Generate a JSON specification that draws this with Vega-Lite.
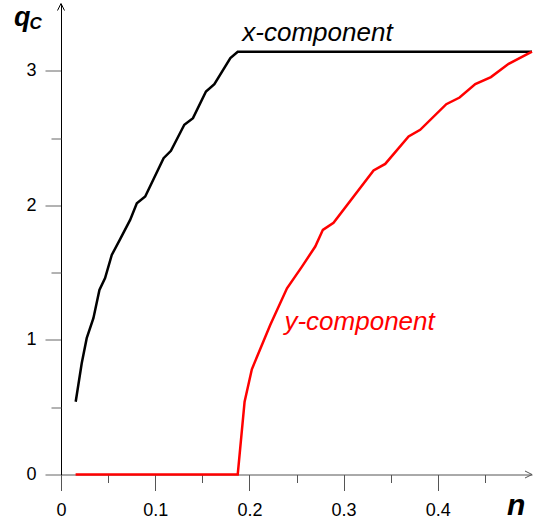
{
  "$schema": "https://vega.github.io/schema/vega-lite/v6.json",
  "autosize": "none",
  "width": 471,
  "height": 471,
  "padding": {"left": 61, "top": 3.5, "right": 13, "bottom": 47.5},
  "background": "white",
  "config": {"view": {"stroke": null}, "font": "Liberation Sans"},
  "datasets": {
    "xcomp": [
      {"n": 0.0156, "q": 0.541},
      {"n": 0.022, "q": 0.827},
      {"n": 0.0273, "q": 1.013},
      {"n": 0.0344, "q": 1.161},
      {"n": 0.0408, "q": 1.372},
      {"n": 0.0468, "q": 1.459},
      {"n": 0.0539, "q": 1.632},
      {"n": 0.0628, "q": 1.749},
      {"n": 0.0734, "q": 1.892},
      {"n": 0.0805, "q": 2.016},
      {"n": 0.0894, "q": 2.066},
      {"n": 0.1089, "q": 2.351},
      {"n": 0.1167, "q": 2.405},
      {"n": 0.1309, "q": 2.599},
      {"n": 0.1401, "q": 2.648},
      {"n": 0.1539, "q": 2.846},
      {"n": 0.1628, "q": 2.901},
      {"n": 0.1798, "q": 3.094},
      {"n": 0.1876, "q": 3.1416},
      {"n": 0.5, "q": 3.1416}
    ],
    "ycomp": [
      {"n": 0.0155, "q": 0},
      {"n": 0.1876, "q": 0},
      {"n": 0.1949, "q": 0.541},
      {"n": 0.2026, "q": 0.782},
      {"n": 0.2221, "q": 1.111},
      {"n": 0.2399, "q": 1.384},
      {"n": 0.2558, "q": 1.545},
      {"n": 0.2699, "q": 1.694},
      {"n": 0.278, "q": 1.818},
      {"n": 0.2893, "q": 1.87},
      {"n": 0.3318, "q": 2.259},
      {"n": 0.3442, "q": 2.308},
      {"n": 0.369, "q": 2.512},
      {"n": 0.3813, "q": 2.561},
      {"n": 0.409, "q": 2.752},
      {"n": 0.4231, "q": 2.801},
      {"n": 0.4398, "q": 2.901},
      {"n": 0.4564, "q": 2.953},
      {"n": 0.4752, "q": 3.052},
      {"n": 0.5, "q": 3.1416}
    ]
  },
  "resolve": {"axis": {"x": "independent", "y": "independent"}},
  "layer": [
    {
      "data": {"name": "xcomp"},
      "mark": {"type": "line", "color": "black", "strokeWidth": 2.5, "clip": false},
      "encoding": {
        "x": {"field": "n", "type": "quantitative",
          "scale": {"domain": [0, 0.5], "nice": false, "zero": false},
          "axis": {"orient": "bottom", "values": [0, 0.1, 0.2, 0.3, 0.4], "format": "~g",
            "title": null, "grid": false, "domainColor": "#555", "domainWidth": 1,
            "tickColor": "#555", "tickSize": 16, "tickWidth": 1,
            "labelFontSize": 18, "labelColor": "black", "labelPadding": 11,
            "labelFlush": false, "labelOverlap": false}},
        "y": {"field": "q", "type": "quantitative",
          "scale": {"domain": [0, 3.5], "nice": false, "zero": false},
          "axis": {"orient": "left", "values": [0, 1, 2, 3], "format": "~g",
            "title": null, "grid": false, "domainColor": "black", "domainWidth": 1,
            "tickColor": "#666", "tickSize": 16, "tickWidth": 1,
            "labelFontSize": 18, "labelColor": "black", "labelPadding": 9,
            "labelFlush": false, "labelOverlap": false}}
      }
    },
    {
      "data": {"name": "ycomp"},
      "mark": {"type": "line", "color": "#ff0000", "strokeWidth": 2.5, "clip": false},
      "encoding": {
        "x": {"field": "n", "type": "quantitative",
          "axis": {"orient": "bottom", "values": [0.05, 0.15, 0.25, 0.35, 0.45],
            "title": null, "grid": false, "domain": false, "labels": false,
            "tickColor": "#555", "tickSize": 8, "tickWidth": 1}},
        "y": {"field": "q", "type": "quantitative",
          "axis": {"orient": "left", "values": [0.5, 1.5, 2.5],
            "title": null, "grid": false, "domain": false, "labels": false,
            "tickColor": "#666", "tickSize": 10, "tickWidth": 1}}
      }
    },
    {
      "data": {"values": [{}]},
      "mark": {"type": "point", "shape": "M -1 -0.5 L 0 0 L -1 0.5", "size": 196, "filled": false, "stroke": "#555", "strokeWidth": 1, "opacity": 1, "clip": false},
      "encoding": {
        "x": {"datum": 0.5, "type": "quantitative", "axis": null},
        "y": {"datum": 0, "type": "quantitative", "axis": null}
      }
    },
    {
      "data": {"values": [{}]},
      "mark": {"type": "point", "shape": "M -0.5 1 L 0 0 L 0.5 1", "size": 196, "filled": false, "stroke": "black", "strokeWidth": 1, "opacity": 1, "clip": false},
      "encoding": {
        "x": {"datum": 0, "type": "quantitative", "axis": null},
        "y": {"datum": 3.5, "type": "quantitative", "axis": null}
      }
    },
    {
      "data": {"values": [{}]},
      "mark": {"type": "text", "text": "x-component", "font": "Liberation Sans", "fontStyle": "italic", "fontSize": 26, "color": "black", "align": "left", "baseline": "alphabetic", "clip": false},
      "encoding": {
        "x": {"datum": 0.1925, "type": "quantitative", "axis": null},
        "y": {"datum": 3.221, "type": "quantitative", "axis": null}
      }
    },
    {
      "data": {"values": [{}]},
      "mark": {"type": "text", "text": "y-component", "font": "Liberation Sans", "fontStyle": "italic", "fontSize": 26, "color": "#ff0000", "align": "left", "baseline": "alphabetic", "clip": false},
      "encoding": {
        "x": {"datum": 0.2372, "type": "quantitative", "axis": null},
        "y": {"datum": 1.074, "type": "quantitative", "axis": null}
      }
    },
    {
      "data": {"values": [{}]},
      "mark": {"type": "text", "text": "q", "font": "Liberation Sans", "fontStyle": "italic", "fontWeight": "bold", "fontSize": 27, "color": "black", "align": "left", "baseline": "alphabetic", "clip": false},
      "encoding": {
        "x": {"datum": -0.05, "type": "quantitative", "axis": null},
        "y": {"datum": 3.333, "type": "quantitative", "axis": null}
      }
    },
    {
      "data": {"values": [{}]},
      "mark": {"type": "text", "text": "C", "font": "Liberation Sans", "fontStyle": "italic", "fontWeight": "bold", "fontSize": 17, "color": "black", "align": "left", "baseline": "alphabetic", "clip": false},
      "encoding": {
        "x": {"datum": -0.0335, "type": "quantitative", "axis": null},
        "y": {"datum": 3.31, "type": "quantitative", "axis": null}
      }
    },
    {
      "data": {"values": [{}]},
      "mark": {"type": "text", "text": "n", "font": "Liberation Sans", "fontStyle": "italic", "fontWeight": "bold", "fontSize": 30, "color": "black", "align": "left", "baseline": "alphabetic", "clip": false},
      "encoding": {
        "x": {"datum": 0.4735, "type": "quantitative", "axis": null},
        "y": {"datum": -0.301, "type": "quantitative", "axis": null}
      }
    }
  ]
}
